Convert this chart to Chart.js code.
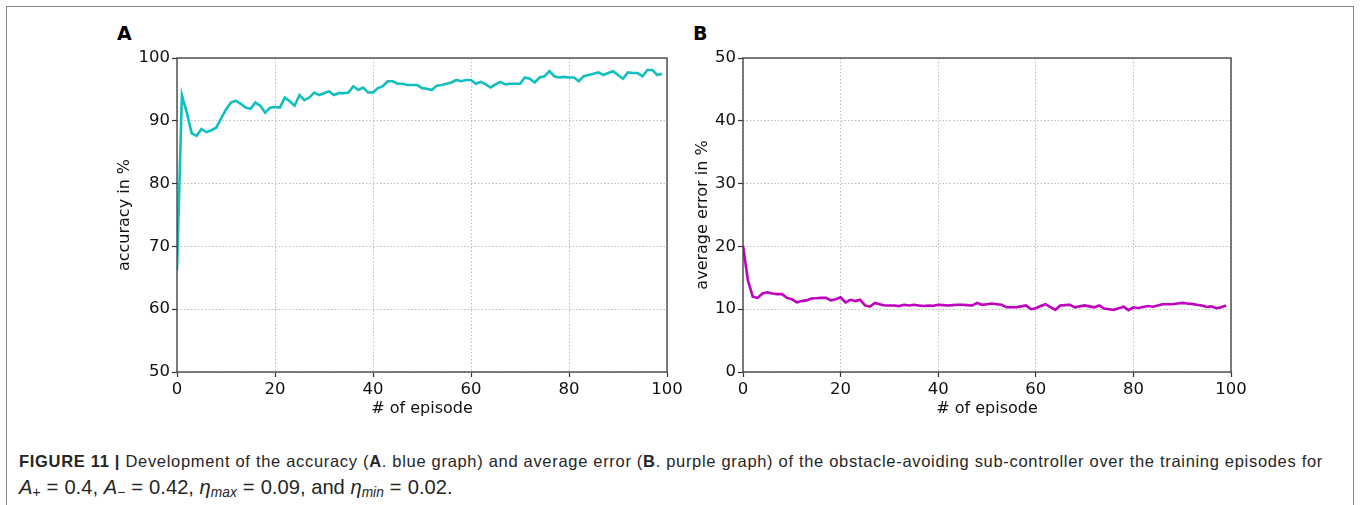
<!DOCTYPE html>
<html><head><meta charset="utf-8">
<script src="https://cdn.jsdelivr.net/npm/chart.js@4.4.1/dist/chart.umd.min.js"></script>
<style>
html,body{margin:0;padding:0;background:#fff;width:1360px;height:505px;overflow:hidden;}
#frame{position:absolute;left:6px;top:6px;width:1348px;height:600px;border:1.5px solid #888;border-bottom:none;box-sizing:border-box;}
.panel{position:absolute;font-family:"DejaVu Sans";font-weight:bold;font-size:19px;color:#000;line-height:1;}
canvas{position:absolute;}
#cap{position:absolute;left:19px;top:448px;font-family:"Liberation Sans";font-size:16.5px;line-height:26px;color:#262626;white-space:nowrap;}
#cap b{font-weight:bold;}
#l2{font-size:17px;}
.eq{margin:0 0.3em;}
sub{font-size:0.68em;vertical-align:-0.25em;line-height:0;}
</style></head>
<body>
<div id="frame"></div>
<div class="panel" style="left:117px;top:24px;">A</div>
<div class="panel" style="left:693px;top:24px;">B</div>
<canvas id="cA" width="600" height="390" style="left:100px;top:40px;"></canvas>
<canvas id="cB" width="600" height="390" style="left:680px;top:40px;"></canvas>
<div id="cap"><div id="l1"><b>FIGURE 11 |</b> Development of the accuracy (<b>A</b>. blue graph) and average error (<b>B</b>. purple graph) of the obstacle-avoiding sub-controller over the training episodes for</div><div id="l2"><i>A</i><sub>+</sub><span class="eq">=</span>0.4, <i>A</i><sub>−</sub><span class="eq">=</span>0.42, <i>η</i><sub><i>max</i></sub><span class="eq">=</span>0.09, and <i>η</i><sub><i>min</i></sub><span class="eq">=</span>0.02.</div></div>
<script>
const episodes = [0,1,2,3,4,5,6,7,8,9,10,11,12,13,14,15,16,17,18,19,20,21,22,23,24,25,26,27,28,29,30,31,32,33,34,35,36,37,38,39,40,41,42,43,44,45,46,47,48,49,50,51,52,53,54,55,56,57,58,59,60,61,62,63,64,65,66,67,68,69,70,71,72,73,74,75,76,77,78,79,80,81,82,83,84,85,86,87,88,89,90,91,92,93,94,95,96,97,98,99];
const accuracy = [66.2,94.1,91.3,88.0,87.6,88.7,88.2,88.5,88.9,90.4,91.8,92.9,93.2,92.7,92.1,91.9,92.9,92.4,91.3,92.1,92.2,92.1,93.7,93.1,92.4,94.1,93.3,93.7,94.5,94.1,94.4,94.7,94.1,94.4,94.4,94.5,95.5,94.9,95.3,94.5,94.5,95.2,95.5,96.3,96.3,95.9,95.9,95.7,95.7,95.7,95.2,95.1,94.9,95.6,95.7,95.9,96.1,96.5,96.3,96.5,96.5,95.9,96.2,95.8,95.3,95.8,96.2,95.8,95.9,95.9,95.9,96.9,96.7,96.1,96.9,97.1,97.9,97.1,96.9,97.0,96.9,96.9,96.3,97.1,97.3,97.5,97.7,97.3,97.6,97.9,97.3,96.7,97.7,97.6,97.6,97.1,98.1,98.1,97.3,97.5];
const avgError = [20.1,14.6,12.0,11.8,12.5,12.7,12.5,12.4,12.4,11.8,11.6,11.1,11.3,11.4,11.7,11.75,11.8,11.8,11.4,11.6,11.9,11.1,11.5,11.3,11.5,10.6,10.4,11.0,10.8,10.6,10.6,10.6,10.5,10.7,10.6,10.7,10.6,10.5,10.6,10.55,10.7,10.65,10.6,10.65,10.7,10.7,10.65,10.6,11.0,10.7,10.8,10.9,10.8,10.7,10.3,10.3,10.3,10.45,10.6,10.0,10.15,10.5,10.8,10.35,9.9,10.6,10.65,10.7,10.3,10.45,10.6,10.45,10.3,10.6,10.1,10.0,9.9,10.15,10.4,9.85,10.3,10.2,10.35,10.5,10.4,10.6,10.8,10.8,10.8,10.9,11.0,10.9,10.85,10.7,10.6,10.35,10.45,10.15,10.3,10.6];
const xTicks = [0,20,40,60,80,100];
const yTicksA = [50,60,70,80,90,100];
const yTicksB = [0,10,20,30,40,50];

const boxPlugin = {
  id:'box',
  afterDraw(chart){
    const a = chart.chartArea, c = chart.ctx;
    c.save(); c.strokeStyle='#3a3a3a'; c.lineWidth=1.3; c.setLineDash([]);
    c.strokeRect(a.left, a.top, a.right-a.left, a.bottom-a.top);
    c.restore();
  }
};

function makeChart(id, values, color, yTicks, yTitle, cfg){
  const tickFont = {family:'DejaVu Sans', size:16.5};
  const titleFont = {family:'DejaVu Sans', size:16};
  return new Chart(document.getElementById(id), {
    type:'line',
    data:{datasets:[{data: episodes.map((e,i)=>({x:e,y:values[i]})), borderColor:color, borderWidth:2.6, pointRadius:0, tension:0, fill:false}]},
    options:{
      responsive:false, animation:false, events:[],
      layout:{padding:{top:cfg.top, right:cfg.right, left:0, bottom:0}},
      plugins:{legend:{display:false}, tooltip:{enabled:false}},
      scales:{
        x:{type:'linear', min:xTicks[0], max:xTicks[xTicks.length-1],
           afterBuildTicks(s){ s.ticks = xTicks.map(v=>({value:v})); },
           afterFit(s){ s.height = cfg.xh; },
           ticks:{font:tickFont, color:'#111', padding:3, maxRotation:0, autoSkip:false},
           grid:{color:'#bdbdbd', lineWidth:1, tickLength:5, tickColor:'#333', tickWidth:1.2},
           border:{display:false, dash:[1.5,2]},
           title:{display:true, text:'# of episode', font:titleFont, color:'#111', padding:{top:0,bottom:cfg.xtp}}
        },
        y:{type:'linear', min:yTicks[0], max:yTicks[yTicks.length-1],
           afterBuildTicks(s){ s.ticks = yTicks.map(v=>({value:v})); },
           afterFit(s){ s.width = cfg.yw; },
           ticks:{font:tickFont, color:'#111', padding:2, autoSkip:false},
           grid:{color:'#bdbdbd', lineWidth:1, tickLength:5, tickColor:'#333', tickWidth:1.2},
           border:{display:false, dash:[1.5,2]},
           title:{display:true, text:yTitle, font:titleFont, color:'#111', padding:{top:cfg.ytp,bottom:0}}
        }
      }
    },
    plugins:[boxPlugin]
  });
}
makeChart('cA', accuracy, '#12bfbf', yTicksA, 'accuracy in %', {top:18, right:33, xh:58, yw:77, xtp:12, ytp:15});
makeChart('cB', avgError, '#bf00bf', yTicksB, 'average error in %', {top:18, right:49, xh:58, yw:63, xtp:12, ytp:13});

// fit caption lines to their measured widths in the reference
function measure(el){
  el.style.display = 'inline-block';
  const w = el.getBoundingClientRect().width;
  el.style.display = 'block';
  return w;
}
const l1 = document.getElementById('l1');
l1.style.letterSpacing = ((1304 - measure(l1)) / l1.textContent.length) + 'px';
const l2 = document.getElementById('l2');
l2.style.fontSize = (17 * 434 / measure(l2)) + 'px';
</script>
</body></html>
